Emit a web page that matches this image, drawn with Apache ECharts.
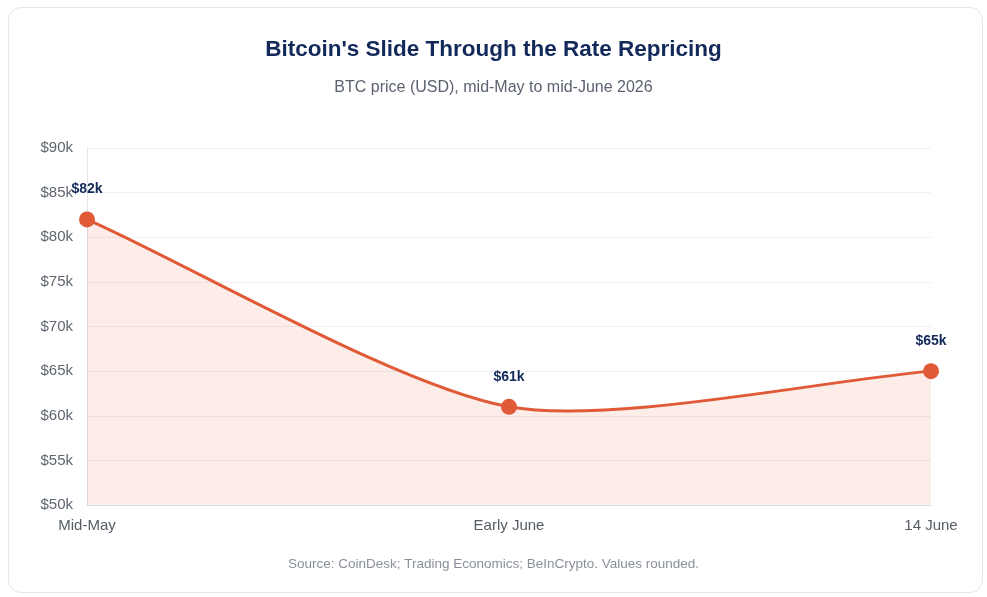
<!DOCTYPE html>
<html><head><meta charset="utf-8">
<script src="https://cdn.jsdelivr.net/npm/echarts@6/dist/echarts.min.js"></script>
<style>
html,body{margin:0;padding:0;background:#fff;width:987px;height:597px;overflow:hidden}
#card{position:absolute;left:8px;top:7px;width:975px;height:586px;border:1px solid #e6e7ea;border-radius:13px;box-sizing:border-box;background:#fff}
#c{position:absolute;left:0;top:0;width:987px;height:597px}
</style></head><body>
<div id="card"></div>
<div id="c"></div>
<script>
const categories = ['Mid-May', 'Early June', '14 June'];
const btcPrice = [82000, 61000, 65000];
const dataLabels = ['$82k', '$61k', '$65k'];
const yTicks = {min: 50000, max: 90000, interval: 5000};

const FONT = "'Liberation Sans', Arial, sans-serif";
const LINE_COLOR = '#e05a38';
const TENSION = 0.25;

// Cardinal-style spline through pixel points (tension like the original chart)
function splinePath(pts) {
  const cps = pts.map((p, i) => {
    const prev = pts[i - 1] || p, next = pts[i + 1] || p;
    const d01 = Math.hypot(p[0] - prev[0], p[1] - prev[1]);
    const d12 = Math.hypot(next[0] - p[0], next[1] - p[1]);
    let s01 = d01 / (d01 + d12), s12 = d12 / (d01 + d12);
    if (!isFinite(s01)) s01 = 0; if (!isFinite(s12)) s12 = 0;
    const fa = TENSION * s01, fb = TENSION * s12;
    return {
      prev: [p[0] - fa * (next[0] - prev[0]), p[1] - fa * (next[1] - prev[1])],
      next: [p[0] + fb * (next[0] - prev[0]), p[1] + fb * (next[1] - prev[1])]
    };
  });
  let d = 'M' + pts[0][0] + ' ' + pts[0][1];
  for (let i = 1; i < pts.length; i++) {
    const a = cps[i - 1].next, b = cps[i].prev, p = pts[i];
    d += ' C' + a[0] + ' ' + a[1] + ' ' + b[0] + ' ' + b[1] + ' ' + p[0] + ' ' + p[1];
  }
  return d;
}

const chart = echarts.init(document.getElementById('c'), null, {renderer: 'canvas'});
chart.setOption({
  backgroundColor: 'transparent',
  animation: false,
  title: [
    {text: "Bitcoin's Slide Through the Rate Repricing", left: 'center', top: 33,
     textStyle: {fontFamily: FONT, fontSize: 22.5, fontWeight: 'bold', color: '#13295a'}},
    {text: 'BTC price (USD), mid-May to mid-June 2026', left: 'center', top: 75,
     textStyle: {fontFamily: FONT, fontSize: 16, fontWeight: 'normal', color: '#5a6270'}},
    {text: 'Source: CoinDesk; Trading Economics; BeInCrypto. Values rounded.', left: 'center', top: 552,
     textStyle: {fontFamily: FONT, fontSize: 13.5, fontWeight: 'normal', color: '#8a909a'}}
  ],
  grid: {left: 87, right: 56, top: 148, bottom: 92, containLabel: false},
  xAxis: {
    type: 'category', data: categories, boundaryGap: false,
    axisLine: {lineStyle: {color: '#d9dce0'}},
    axisTick: {show: false},
    axisLabel: {fontFamily: FONT, fontSize: 15, color: '#555c66', margin: 13},
    splitLine: {show: false}
  },
  yAxis: {
    type: 'value', min: yTicks.min, max: yTicks.max, interval: yTicks.interval,
    axisLine: {show: true, lineStyle: {color: '#e3e5e8'}}, axisTick: {show: false},
    axisLabel: {fontFamily: FONT, fontSize: 15, color: '#5f6670', margin: 14,
      formatter: v => '$' + (v / 1000) + 'k'},
    splitLine: {lineStyle: {color: '#eef0f3'}}
  },
  series: [{
    type: 'custom', z: 2, clip: false,
    data: btcPrice.map((v, i) => [i, v]),
    encode: {x: 0, y: 1},
    renderItem: function (params, api) {
      if (params.dataIndex !== 0) return null;
      const pts = btcPrice.map((v, i) => api.coord([i, v]));
      const base0 = api.coord([0, yTicks.min]);
      const baseN = api.coord([btcPrice.length - 1, yTicks.min]);
      const line = splinePath(pts);
      const area = line + ' L' + baseN[0] + ' ' + baseN[1] + ' L' + base0[0] + ' ' + base0[1] + ' Z';
      return {
        type: 'group',
        children: [
          {type: 'path', shape: {pathData: area}, style: {fill: 'rgba(224,90,56,0.11)', stroke: null}},
          {type: 'path', shape: {pathData: line}, style: {fill: null, stroke: LINE_COLOR, lineWidth: 3}}
        ]
      };
    }
  }, {
    type: 'line', data: btcPrice, z: 3,
    symbol: 'circle', symbolSize: 16,
    lineStyle: {width: 0, opacity: 0},
    itemStyle: {color: LINE_COLOR},
    label: {show: true, position: 'top', distance: 15,
      formatter: p => dataLabels[p.dataIndex],
      fontFamily: FONT, fontSize: 14, fontWeight: 'bold', color: '#13295a'}
  }]
});
</script>
</body></html>
